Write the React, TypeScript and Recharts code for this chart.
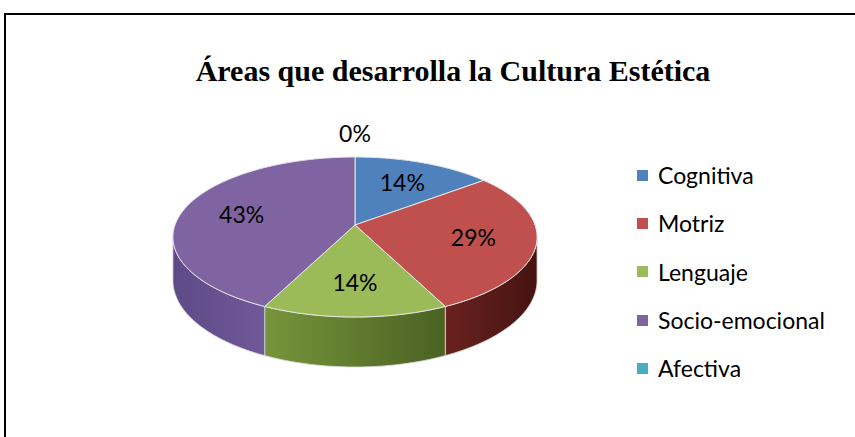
import React from 'react'
import { PieChart, Pie, Cell, Legend } from 'recharts'

const categories = ['Cognitiva', 'Motriz', 'Lenguaje', 'Socio-emocional', 'Afectiva']
const counts = [1, 2, 1, 3, 0]

const TOP_COLORS = ['#4F81BD', '#C0504D', '#9BBB59', '#8064A2', '#4BACC6']
const SIDE_LEFT = ['#3d6592', '#6a221f', '#76953a', '#5f4a88', '#3a8aa0']
const SIDE_RIGHT = ['#203650', '#451311', '#4a6223', '#6f5998', '#1f5564']

const data = categories.map((name, i) => ({ name, value: counts[i] }))

// fake 3d: tilt of the disc, perspective strength, height of the rim
const TILT = 0.4344
const PERSP = 0.15
const DEPTH = 42.5
const RAD = Math.PI / 180
const EDGE = Math.asin(PERSP) / RAD // silhouette of the rim

const proj = (cx: number, cy: number, R: number, r: number, deg: number, h = 0) => {
  const u = r * Math.cos(deg * RAD)
  const v = -r * Math.sin(deg * RAD)
  const s = 1 / (1 - (PERSP / R) * v)
  return [cx + u * s, cy + (TILT * v + h) * s]
}

const arcPts = (cx: number, cy: number, R: number, from: number, to: number, h = 0) => {
  const n = Math.max(2, Math.ceil(Math.abs(from - to)))
  const pts: string[] = []
  for (let k = 0; k <= n; k++) {
    const a = from + ((to - from) * k) / n
    const [x, y] = proj(cx, cy, R, R, a, h)
    pts.push(`${x.toFixed(2)},${y.toFixed(2)}`)
  }
  return pts
}

const Slice3D = (props: any) => {
  const { cx, cy, outerRadius: R, startAngle, endAngle, fill } = props
  const name = props.name ?? props.payload?.name
  const i = categories.indexOf(name)
  const a1 = Math.max(startAngle, endAngle)
  const a0 = Math.min(startAngle, endAngle)
  if (a1 - a0 <= 0) return <g />

  const hi = Math.min(a1, -EDGE)
  const lo = Math.max(a0, -180 + EDGE)
  const gid = `side-grad-${i}`

  const top = arcPts(cx, cy, R, a1, a0)
  let wall = ''
  if (lo < hi) {
    const upper = arcPts(cx, cy, R, hi, lo)
    const lower = arcPts(cx, cy, R, lo, hi, DEPTH)
    wall = `M${upper.join(' L')} L${lower.join(' L')} Z`
  }

  return (
    <g>
      <defs>
        <linearGradient id={gid} x1="0" y1="0" x2="1" y2="0">
          <stop offset="0%" stopColor={SIDE_LEFT[i]} />
          <stop offset="100%" stopColor={SIDE_RIGHT[i]} />
        </linearGradient>
      </defs>
      {wall && <path d={wall} fill={`url(#${gid})`} stroke="#d9d9d9" strokeWidth={0.8} />}
      <path
        d={`M${cx},${cy} L${top.join(' L')} Z`}
        fill={fill}
        stroke="#e6e6e6"
        strokeWidth={1}
        strokeLinejoin="round"
      />
    </g>
  )
}

const renderLabel = (props: any) => {
  const { cx, cy, midAngle, outerRadius, percent } = props
  const f = percent === 0 ? 1.43 : 0.66
  const [x, y] = proj(cx, cy, outerRadius, outerRadius * f, midAngle)
  return (
    <text
      x={x}
      y={y}
      textAnchor="middle"
      dominantBaseline="central"
      fill="#000"
      style={{ fontFamily: 'Lato', fontSize: 23 }}
    >
      {`${Math.round(percent * 100)}%`}
    </text>
  )
}

const renderLegend = (props: any) => {
  const payload = [...(props.payload || [])].sort(
    (a: any, b: any) => categories.indexOf(a.value) - categories.indexOf(b.value),
  )
  return (
    <ul style={{ listStyle: 'none', margin: 0, padding: 0 }}>
      {payload.map((entry: any, i: number) => (
        <li
          key={`legend-${i}`}
          style={{
            height: 48.3,
            display: 'flex',
            alignItems: 'center',
            fontFamily: 'Lato',
            fontSize: 23,
            color: '#000',
          }}
        >
          <span
            style={{
              display: 'inline-block',
              width: 11,
              height: 11,
              background: TOP_COLORS[categories.indexOf(entry.value)] ?? entry.color,
              marginRight: 10,
            }}
          />
          {entry.value}
        </li>
      ))}
    </ul>
  )
}

export default function App() {
  return (
    <div
      style={{
        position: 'absolute',
        left: 0,
        top: 0,
        width: 855,
        height: 437,
        overflow: 'hidden',
        background: '#fff',
      }}
    >
      <div
        style={{
          position: 'absolute',
          left: 4,
          top: 13,
          width: 900,
          height: 500,
          border: '2px solid #000',
        }}
      />
      <div
        style={{
          position: 'absolute',
          left: 0,
          top: 56,
          width: 906,
          textAlign: 'center',
          fontFamily: '"Liberation Serif", serif',
          fontWeight: 'bold',
          fontSize: 30,
          lineHeight: '30px',
          color: '#000',
        }}
      >
        Áreas que desarrolla la Cultura Estética
      </div>
      <div style={{ position: 'absolute', left: 0, top: 0 }}>
        <PieChart width={855} height={437} margin={{ top: 0, right: 0, bottom: 0, left: 0 }}>
          <Pie
            data={data}
            dataKey="value"
            nameKey="name"
            cx={355}
            cy={225}
            outerRadius={180}
            startAngle={90}
            endAngle={-270}
            stroke="none"
            shape={Slice3D}
            label={renderLabel}
            labelLine={false}
            isAnimationActive={false}
          >
            {data.map((entry, index) => (
              <Cell key={`cell-${index}`} fill={TOP_COLORS[index]} />
            ))}
          </Pie>
          <Legend
            layout="vertical"
            align="right"
            verticalAlign="top"
            content={renderLegend}
            wrapperStyle={{ left: 637, top: 151, width: 218 }}
          />
        </PieChart>
      </div>
    </div>
  )
}
